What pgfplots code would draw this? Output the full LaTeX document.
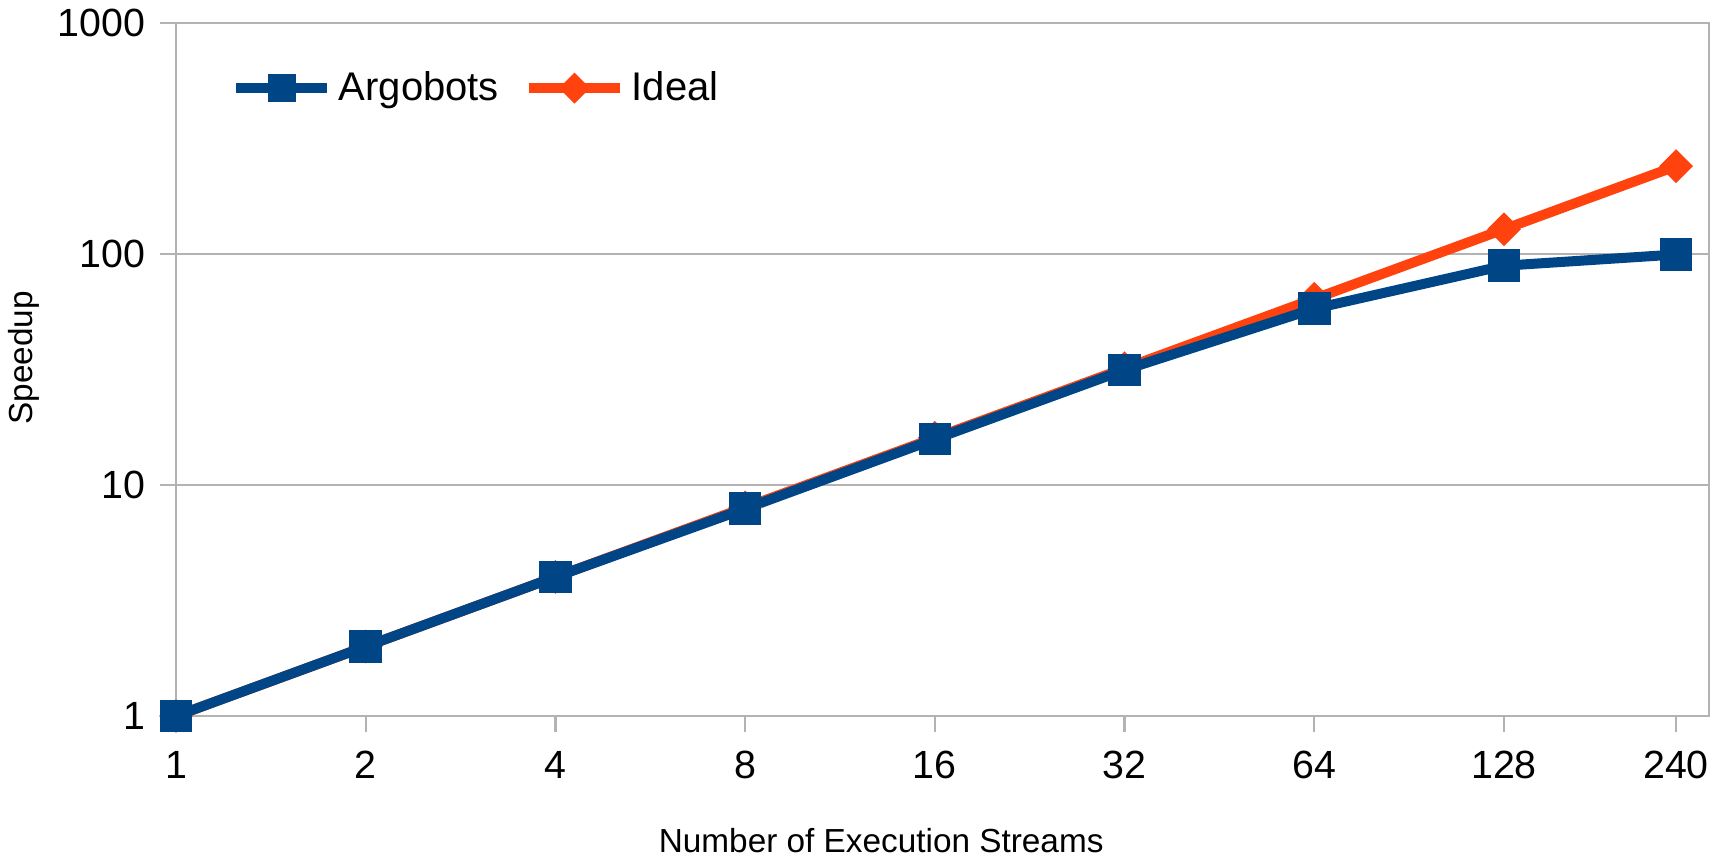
\documentclass[border=0pt]{standalone}
\usepackage{pgfplots}
\pgfplotsset{compat=1.18}
\usepackage{fontspec}
\setmainfont{Liberation Sans}
\definecolor{lobl}{HTML}{004586}
\definecolor{loor}{HTML}{FF420E}
\definecolor{gridg}{HTML}{B3B3B3}
\begin{document}
\begin{tikzpicture}
\useasboundingbox (0,0) rectangle (518.7pt,257.7pt);
\begin{axis}[
  at={(52.8pt,42.9pt)}, anchor=south west,
  scale only axis, width=459.9pt, height=207.9pt,
  ymode=log, ymin=1, ymax=1000,
  xmode=log, log basis x=2, xmin=1, xmax=270.7,
  xtick={1,2,4,8,16,32,64,128,240},
  xticklabels={1,2,4,8,16,32,64,128,240},
  minor xtick={},
  ytick={1,10,100,1000},
  yticklabels={1,10,100,1000},
  minor ytick={},
  log basis y=10,
  ymajorgrids, grid style={gridg, line width=0.7pt},
  axis line style={gridg, line width=0.8pt},
  tick style={gridg, line width=0.7pt, major tick length=4.8pt},
  tick align=outside,
  xtick pos=bottom, ytick pos=left,
  ticklabel style={font=\fontsize{11.8}{13}\selectfont, text=black},
  xticklabel style={yshift=-2.2pt},
  yticklabel style={xshift=-1pt},
  /pgf/number format/assume math mode=true,
  xlabel={Number of Execution Streams},
  ylabel={Speedup},
  label style={font=\fontsize{10.5}{12}\selectfont},
  every axis x label/.style={at={(axis description cs:0.46,-0.18)}, anchor=center},
  every axis y label/.style={at={(axis description cs:-0.0992,0.517)}, anchor=center, rotate=90},
  legend style={at={(axis description cs:0.029,0.906)}, anchor=west, draw=none, fill=none,
    font=\fontsize{12}{13}\selectfont, legend columns=2,
    /tikz/every even column/.append style={column sep=5.5pt}},
  legend cell align=left,
  legend image code/.code={\draw[mark repeat=2,mark phase=2,#1] plot coordinates {(0cm,0cm)(0.48cm,0cm)(0.96cm,0cm)};},
]
\addlegendimage{lobl, line width=3pt, mark=square*, mark size=4pt, mark options={solid, line width=0.4pt, fill=lobl, draw=lobl}}
\addlegendentry{Argobots}
\addlegendimage{loor, line width=3pt, mark=square*, mark size=3.1pt, mark options={solid, rotate=45, line width=0.4pt, fill=loor, draw=loor}}
\addlegendentry{Ideal}
\addplot[forget plot, loor, line width=3pt, mark=square*, mark size=3.4pt, mark options={solid, rotate=45, line width=0.4pt, fill=loor, draw=loor}]
  coordinates {(1,1)(2,2)(4,4)(8,8)(16,16)(32,32)(64,64)(128,128)(240,240)};
\addplot[forget plot, lobl, line width=3pt, mark=square*, mark size=4.7pt, mark options={solid, line width=0.4pt, fill=lobl, draw=lobl}]
  coordinates {(1,1)(2,2)(4,4)(8,7.9)(16,15.8)(32,31.5)(64,58)(128,89)(240,99.5)};
\end{axis}
\end{tikzpicture}
\end{document}
